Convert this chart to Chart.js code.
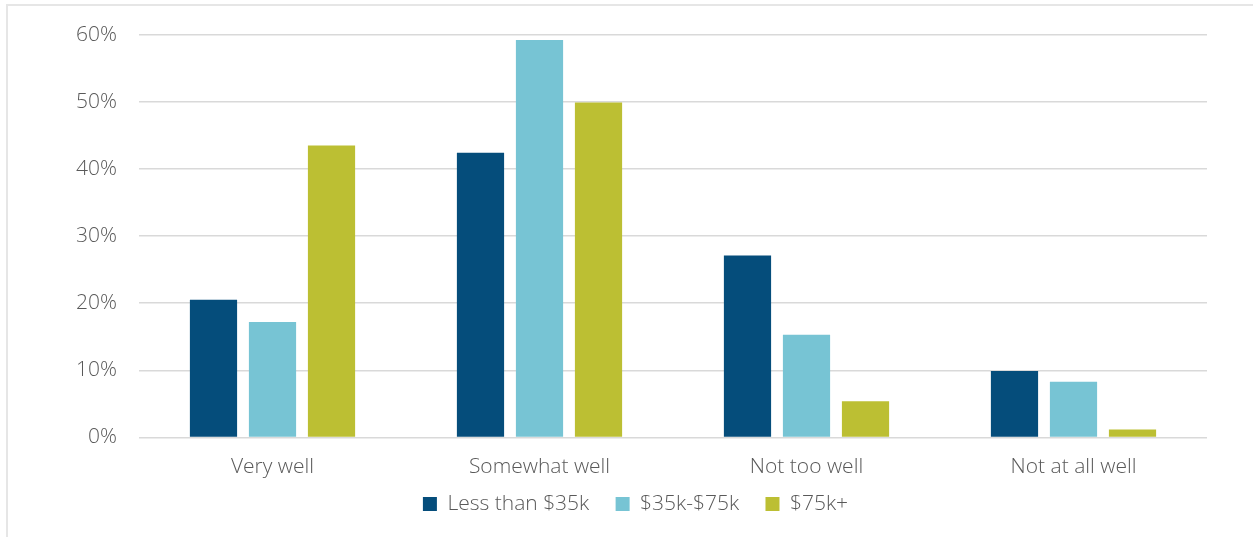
<!DOCTYPE html>
<html>
<head>
<meta charset="utf-8">
<script src="https://cdn.jsdelivr.net/npm/chart.js@4/dist/chart.umd.min.js"></script>
<style>
  html, body { margin: 0; padding: 0; background: #fff; }
  #wrap { position: relative; width: 1253px; height: 537px; overflow: hidden; }
  #frame { position: absolute; left: 6px; top: 4px; width: 1300px; height: 600px; border: 2px solid #e6e6e6; box-sizing: border-box; }
  #box { position: absolute; left: 0; top: 0; width: 1253px; height: 537px; }
</style>
</head>
<body>
<div id="wrap">
  <div id="frame"></div>
  <div id="box"><canvas id="incomeChart"></canvas></div>
</div>
<script>
// Categories and series
const categories = ['Very well', 'Somewhat well', 'Not too well', 'Not at all well'];
const seriesNames = ['Less than $35k', '$35k-$75k', '$75k+'];
const lessThan35k = [20.5, 42.4, 27.1, 9.9];
const from35kTo75k = [17.2, 59.2, 15.3, 8.3];
const over75k = [43.5, 49.9, 5.4, 1.2];
const yTicks = [0, 10, 20, 30, 40, 50, 60];

const colors = ['#054D7B', '#77C4D4', '#BCBF33'];
const textColor = '#595959';
const labelFont = { family: '"Open Sans", "Segoe UI", sans-serif', size: 21, weight: 300 };

const ctx = document.getElementById('incomeChart').getContext('2d');

new Chart(ctx, {
    type: 'bar',
    data: {
        labels: categories,
        datasets: [lessThan35k, from35kTo75k, over75k].map((vals, i) => ({
            label: seriesNames[i],
            data: vals,
            backgroundColor: colors[i],
            borderWidth: 0,
            categoryPercentage: 0.663,
            barPercentage: 0.8
        }))
    },
    options: {
        responsive: true,
        maintainAspectRatio: false,
        animation: false,
        layout: { padding: { top: 30, right: 46, left: 64, bottom: 12.5 } },
        scales: {
            x: {
                grid: { display: false, drawTicks: false },
                border: { display: false },
                ticks: { color: textColor, font: labelFont, padding: 17 },
                afterFit: scale => { scale.height = 46; }
            },
            y: {
                min: 0,
                max: 60,
                afterBuildTicks: scale => { scale.ticks = yTicks.map(v => ({ value: v })); },
                grid: { color: '#d9d9d9', lineWidth: 1.5, drawTicks: false },
                border: { display: false },
                ticks: {
                    color: textColor,
                    font: labelFont,
                    padding: 22,
                    callback: v => v + '%'
                },
                afterFit: scale => { scale.width = 75; }
            }
        },
        plugins: {
            legend: {
                position: 'bottom',
                labels: {
                    color: textColor,
                    font: labelFont,
                    boxWidth: 14,
                    boxHeight: 14,
                    padding: 10,
                    // wider gap between legend entries (not after the last one)
                    generateLabels: chart => {
                        const items = Chart.defaults.plugins.legend.labels.generateLabels(chart);
                        return items.map((item, i) =>
                            i < items.length - 1 ? { ...item, text: item.text + '   ' } : item);
                    }
                }
            },
            tooltip: { enabled: false }
        }
    }
});
</script>
</body>
</html>
